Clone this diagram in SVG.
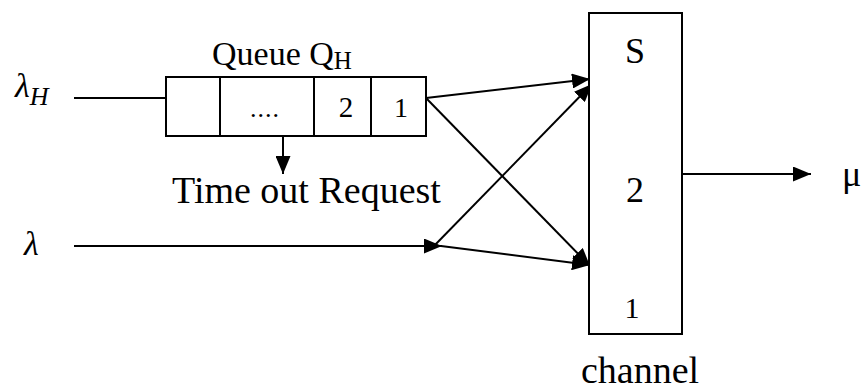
<svg xmlns="http://www.w3.org/2000/svg" width="862" height="390" viewBox="0 0 862 390">
<defs>
<marker id="ah" markerUnits="userSpaceOnUse" markerWidth="19" markerHeight="15" refX="18" refY="7.5" orient="auto">
<path d="M0,0 L18,7.5 L0,15 Z" fill="#000"/>
</marker>
<style>
.ln{stroke:#000;stroke-width:2;fill:none}
.bx{stroke:#000;stroke-width:2;fill:#fff}
.t{font-family:"Liberation Serif","Times New Roman",serif;fill:#000}
.i{font-style:italic}
</style>
</defs>
<rect width="862" height="390" fill="#fff"/>
<g id="connectors">
<line class="ln" x1="74" y1="98" x2="166" y2="98"/>
<line class="ln" x1="283" y1="136" x2="283" y2="174" marker-end="url(#ah)"/>
<line class="ln" x1="74" y1="246" x2="442" y2="246" marker-end="url(#ah)"/>
<line class="ln" x1="426" y1="98" x2="590" y2="79" marker-end="url(#ah)"/>
<line class="ln" x1="426" y1="98" x2="590" y2="266" marker-end="url(#ah)"/>
<line class="ln" x1="433" y1="247" x2="592" y2="84" marker-end="url(#ah)"/>
<line class="ln" x1="441" y1="246" x2="590" y2="265" marker-end="url(#ah)"/>
<line class="ln" x1="682" y1="174" x2="811" y2="174" marker-end="url(#ah)"/>
</g>
<g id="lambdaH">
<text class="t i" x="15" y="97" font-size="34">λ<tspan font-size="26" dy="8">H</tspan></text>
</g>
<g id="lambda">
<text class="t i" x="24" y="255" font-size="34">λ</text>
</g>
<g id="queue">
<text class="t" x="212" y="65" font-size="34">Queue Q<tspan font-size="25" dy="4">H</tspan></text>
<rect class="bx" x="166" y="77" width="260" height="59"/>
<line class="ln" x1="220" y1="77" x2="220" y2="136"/>
<line class="ln" x1="314" y1="77" x2="314" y2="136"/>
<line class="ln" x1="371" y1="77" x2="371" y2="136"/>
<text class="t" x="265" y="117" font-size="26" text-anchor="middle" letter-spacing="1">....</text>
<text class="t" x="346" y="117" font-size="29" text-anchor="middle">2</text>
<text class="t" x="401" y="117" font-size="28" text-anchor="middle">1</text>
</g>
<g id="timeout">
<text class="t" x="172" y="203" font-size="38">Time out Request</text>
</g>
<g id="channel">
<rect class="bx" x="589" y="13" width="93" height="321"/>
<text class="t" x="635" y="63" font-size="36" text-anchor="middle">S</text>
<text class="t" x="635" y="202" font-size="36" text-anchor="middle">2</text>
<text class="t" x="632" y="318" font-size="30" text-anchor="middle">1</text>
<text class="t" x="640" y="383" font-size="38" text-anchor="middle">channel</text>
</g>
<g id="mu">
<text class="t" x="842" y="186" font-size="36">μ</text>
</g>
</svg>
